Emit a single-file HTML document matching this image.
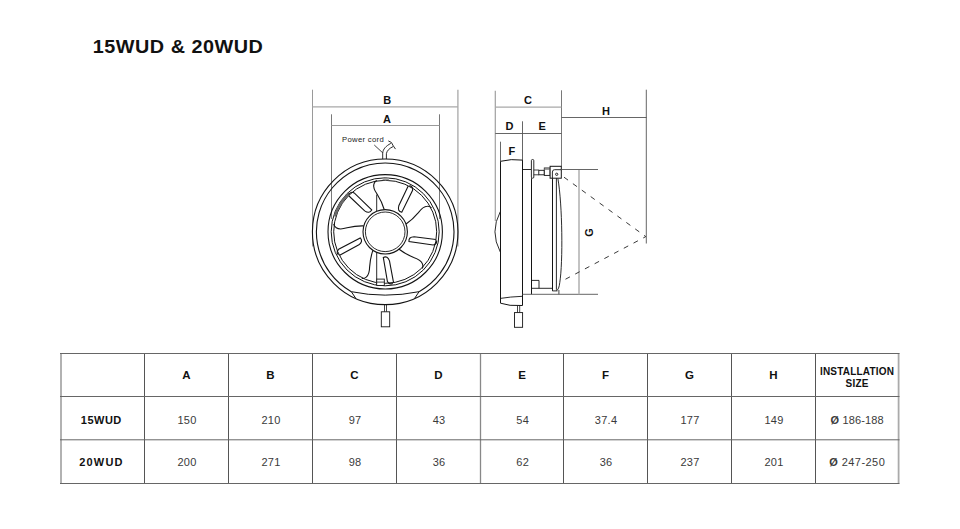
<!DOCTYPE html>
<html><head><meta charset="utf-8">
<style>
html,body{margin:0;padding:0;background:#fff;width:960px;height:529px;overflow:hidden;}
svg{position:absolute;left:0;top:0;}
text{font-family:"Liberation Sans",sans-serif;}
.title{font-size:18px;font-weight:bold;fill:#111;letter-spacing:0.47px;}
.lb{font-size:11px;font-weight:bold;fill:#111;text-anchor:middle;}
.pc{font-size:7.7px;fill:#222;letter-spacing:0.3px;}
.th{font-size:11.5px;font-weight:bold;fill:#111;text-anchor:middle;}
.td{font-size:11px;fill:#3a3a3a;text-anchor:middle;letter-spacing:0.35px;}
.tr{font-size:11px;font-weight:bold;fill:#111;text-anchor:middle;letter-spacing:0.5px;}
.ti{font-size:10px;font-weight:bold;fill:#111;text-anchor:middle;letter-spacing:0.2px;}
</style></head><body>
<svg width="960" height="529" viewBox="0 0 960 529">
<text transform="translate(92.8,53.2) scale(1.1,1)" x="0" y="0" class="title">15WUD &amp; 20WUD</text>
<line x1="312.5" y1="89.7" x2="312.5" y2="246.5" stroke="#9a9a9a" stroke-width="1"/>
<line x1="457.9" y1="89.7" x2="457.9" y2="246.5" stroke="#a8a8a8" stroke-width="1.3"/>
<line x1="312.5" y1="106.9" x2="457.9" y2="106.9" stroke="#a8a8a8" stroke-width="1.3"/>
<line x1="331.5" y1="114.3" x2="331.5" y2="219" stroke="#6a6a6a" stroke-width="0.9"/>
<line x1="439.5" y1="114.3" x2="439.5" y2="219" stroke="#6a6a6a" stroke-width="0.9"/>
<line x1="331.5" y1="125.5" x2="439.5" y2="125.5" stroke="#9a9a9a" stroke-width="1.1"/>
<text x="387.3" y="104" class="lb">B</text>
<text x="387" y="122.9" class="lb">A</text>
<circle cx="385.2" cy="231.8" r="72.8" fill="none" stroke="#141414" stroke-width="1.1"/>
<path d="M351.32,291.68 A68.8,68.8 0 1 1 419.08,291.68" fill="none" stroke="#141414" stroke-width="1.1"/>
<path d="M351.32,291.68 Q385.2,298.6 419.08,291.68" fill="none" stroke="#141414" stroke-width="1"/>
<path d="M351.32,291.68 L355.8,298.4 M419.08,291.68 L414.6,298.4" fill="none" stroke="#141414" stroke-width="1"/>
<circle cx="385.2" cy="231.8" r="57.2" fill="none" stroke="#141414" stroke-width="1.1"/>
<circle cx="385.2" cy="231.8" r="54.0" fill="none" stroke="#141414" stroke-width="1.0"/>
<circle cx="385.2" cy="231.8" r="51.5" fill="none" stroke="#141414" stroke-width="1.0"/>
<path d="M382.6,177.8 L388.9,177.8 L388.9,180.3 L382.6,180.3Z" fill="#9a9a9a"/>
<path d="M333.56,216.01 A54.0,54.0 0 0 1 348.37,192.31 L350.08,194.14 A51.5,51.5 0 0 0 335.95,216.74Z" fill="#6a6a6a"/>
<circle cx="385.2" cy="231.8" r="22.2" fill="none" stroke="#141414" stroke-width="1.1"/>
<circle cx="385.2" cy="231.8" r="19.8" fill="none" stroke="#141414" stroke-width="0.9"/>
<g transform="translate(385.2,231.8)">
<g transform="rotate(0)"><path d="M-1,-22.3 C-2.8,-28.5 -5.5,-33.5 -8,-37.5 C-10.8,-41.5 -12.3,-44.5 -11.3,-47.8 C-10.8,-49.6 -9.8,-50.8 -8.4,-51.4" fill="none" stroke="#141414" stroke-width="1.1"/><path d="M23,-45.8 L13.6,-26 Q12,-20.5 16.6,-19.6 L27.4,-41.5 Q28,-45.5 24.2,-46.2" fill="none" stroke="#141414" stroke-width="1.1"/></g>
<g transform="rotate(72)"><path d="M-1,-22.3 C-2.8,-28.5 -5.5,-33.5 -8,-37.5 C-10.8,-41.5 -12.3,-44.5 -11.3,-47.8 C-10.8,-49.6 -9.8,-50.8 -8.4,-51.4" fill="none" stroke="#141414" stroke-width="1.1"/><path d="M23,-45.8 L13.6,-26 Q12,-20.5 16.6,-19.6 L27.4,-41.5 Q28,-45.5 24.2,-46.2" fill="none" stroke="#141414" stroke-width="1.1"/></g>
<g transform="rotate(144)"><path d="M-1,-22.3 C-2.8,-28.5 -5.5,-33.5 -8,-37.5 C-10.8,-41.5 -12.3,-44.5 -11.3,-47.8 C-10.8,-49.6 -9.8,-50.8 -8.4,-51.4" fill="none" stroke="#141414" stroke-width="1.1"/><path d="M23,-45.8 L13.6,-26 Q12,-20.5 16.6,-19.6 L27.4,-41.5 Q28,-45.5 24.2,-46.2" fill="none" stroke="#141414" stroke-width="1.1"/></g>
<g transform="rotate(216)"><path d="M-1,-22.3 C-2.8,-28.5 -5.5,-33.5 -8,-37.5 C-10.8,-41.5 -12.3,-44.5 -11.3,-47.8 C-10.8,-49.6 -9.8,-50.8 -8.4,-51.4" fill="none" stroke="#141414" stroke-width="1.1"/><path d="M23,-45.8 L13.6,-26 Q12,-20.5 16.6,-19.6 L27.4,-41.5 Q28,-45.5 24.2,-46.2" fill="none" stroke="#141414" stroke-width="1.1"/></g>
<g transform="rotate(288)"><path d="M-1,-22.3 C-2.8,-28.5 -5.5,-33.5 -8,-37.5 C-10.8,-41.5 -12.3,-44.5 -11.3,-47.8 C-10.8,-49.6 -9.8,-50.8 -8.4,-51.4" fill="none" stroke="#141414" stroke-width="1.1"/><path d="M23,-45.8 L13.6,-26 Q12,-20.5 16.6,-19.6 L27.4,-41.5 Q28,-45.5 24.2,-46.2" fill="none" stroke="#141414" stroke-width="1.1"/></g>
</g>
<line x1="376.7" y1="194.5" x2="376.7" y2="211.3" stroke="#141414" stroke-width="0.9"/>
<line x1="376.7" y1="252.3" x2="376.7" y2="284.8" stroke="#141414" stroke-width="0.9"/>
<rect x="376.7" y="279.1" width="7.6" height="6.4" fill="#fff" stroke="#141414" stroke-width="0.9"/>
<line x1="376.7" y1="282.1" x2="384.3" y2="282.1" stroke="#141414" stroke-width="0.8"/>
<path d="M382.7,159 L382.7,153.1 C383,149 386,146 390.8,143.4" fill="none" stroke="#141414" stroke-width="0.9"/>
<path d="M386.4,159 L386.4,153.7 C386.8,151 389,148.5 393,146.6" fill="none" stroke="#141414" stroke-width="0.9"/>
<path d="M388.3,140.9 Q392,141.5 393.3,145.9 L395.5,149.1" fill="none" stroke="#141414" stroke-width="0.9"/>
<line x1="374.25" y1="145" x2="382.7" y2="152.8" stroke="#141414" stroke-width="0.8"/>
<text x="342.1" y="142.2" class="pc">Power cord</text>
<line x1="384.5" y1="304.4" x2="384.5" y2="311.8" stroke="#141414" stroke-width="0.8"/>
<line x1="386.5" y1="304.4" x2="386.5" y2="311.8" stroke="#141414" stroke-width="0.8"/>
<rect x="381.3" y="311.8" width="8.4" height="15" fill="#fff" stroke="#141414" stroke-width="0.9"/>
<line x1="495.3" y1="90.7" x2="495.3" y2="221" stroke="#a0a0a0" stroke-width="1.2"/>
<line x1="561.5" y1="90.3" x2="561.5" y2="166.3" stroke="#6a6a6a" stroke-width="0.9"/>
<line x1="495.3" y1="107.2" x2="561.4" y2="107.2" stroke="#a8a8a8" stroke-width="1.3"/>
<text x="528" y="103.9" class="lb">C</text>
<line x1="495.3" y1="133.5" x2="561.5" y2="133.5" stroke="#555" stroke-width="0.9"/>
<line x1="522.5" y1="121.3" x2="522.5" y2="160.2" stroke="#555" stroke-width="0.9"/>
<text x="509.6" y="130.4" class="lb">D</text>
<text x="542.1" y="130.4" class="lb">E</text>
<line x1="500.5" y1="141.7" x2="500.5" y2="161.3" stroke="#555" stroke-width="0.9"/>
<text x="511.8" y="154.6" class="lb">F</text>
<path d="M500.5,303.2 L500.5,161.3 Q511,158.6 522.5,160.1 L522.5,305.5 L510.1,305.3 Z" fill="none" stroke="#141414" stroke-width="1"/>
<path d="M500.3,211.6 Q489.6,231.8 500.3,252" fill="none" stroke="#141414" stroke-width="0.9"/>
<path d="M500.4,298.4 Q510,296.8 522.4,296.3" fill="none" stroke="#141414" stroke-width="0.9"/>
<line x1="517.5" y1="305.5" x2="517.5" y2="312.6" stroke="#141414" stroke-width="0.8"/>
<line x1="519.7" y1="305.5" x2="519.7" y2="312.6" stroke="#141414" stroke-width="0.8"/>
<rect x="514.5" y="312.6" width="8.1" height="14.7" fill="#fff" stroke="#141414" stroke-width="0.9"/>
<line x1="522.5" y1="169.5" x2="531.4" y2="169.5" stroke="#141414" stroke-width="0.9"/>
<rect x="531.4" y="159.5" width="2.4" height="18.7" rx="1.1" fill="#fff" stroke="#141414" stroke-width="0.9"/>
<line x1="531.5" y1="178.2" x2="531.5" y2="294.3" stroke="#141414" stroke-width="1"/>
<path d="M533.8,170 L538.8,170 M533.8,174.8 L538.8,174.8" stroke="#141414" stroke-width="0.8"/>
<rect x="538.8" y="170.3" width="5.5" height="4.5" fill="#fff" stroke="#141414" stroke-width="0.9"/>
<rect x="544.3" y="168" width="5.8" height="7.4" fill="#fff" stroke="#141414" stroke-width="0.9"/>
<rect x="544.5" y="168.2" width="5.4" height="1.6" fill="#888"/>
<rect x="550.1" y="166.3" width="11.2" height="11.9" fill="#fff" stroke="#141414" stroke-width="1"/>
<path d="M561.3,169.7 L554.6,169.7 Q552.4,169.7 552.4,172 L552.4,178.2" fill="none" stroke="#141414" stroke-width="0.9"/>
<circle cx="556.7" cy="174.3" r="1.15" fill="none" stroke="#141414" stroke-width="0.9"/>
<line x1="552.5" y1="178.2" x2="552.5" y2="290.9" stroke="#141414" stroke-width="1"/>
<line x1="556.4" y1="178.2" x2="556.4" y2="289.8" stroke="#141414" stroke-width="0.9"/>
<path d="M557.9,178.6 C562.5,205 563,262 559.8,282.4 Q559,289.8 556.4,290.6" fill="none" stroke="#141414" stroke-width="0.9"/>
<path d="M552.4,290.9 L557.5,290.9" stroke="#141414" stroke-width="0.9"/>
<path d="M531.8,280.4 L539,280.4 L539,288.3 M531.8,288.3 L552.4,288.3" fill="none" stroke="#141414" stroke-width="0.9"/>
<line x1="558.9" y1="290" x2="558.9" y2="294.3" stroke="#141414" stroke-width="0.8"/>
<line x1="522.4" y1="294.3" x2="598" y2="294.3" stroke="#555" stroke-width="0.9"/>
<line x1="561.3" y1="169.5" x2="598" y2="169.5" stroke="#555" stroke-width="0.9"/>
<line x1="579" y1="170" x2="579" y2="294.3" stroke="#b4b4b4" stroke-width="1.6"/>
<text transform="translate(592.8,232.5) rotate(-90)" x="0" y="0" class="lb">G</text>
<line x1="561.5" y1="117.5" x2="646.6" y2="117.5" stroke="#555" stroke-width="0.9"/>
<line x1="646.3" y1="89.7" x2="646.3" y2="243.5" stroke="#555" stroke-width="0.9"/>
<text x="605.9" y="114.7" class="lb">H</text>
<path d="M564,177.2 L645.8,236.6 L564,280" fill="none" stroke="#222" stroke-width="0.9" stroke-dasharray="5 6"/>
<line x1="144.5" y1="353" x2="144.5" y2="483.5" stroke="#555" stroke-width="1"/>
<line x1="228.5" y1="353" x2="228.5" y2="483.5" stroke="#555" stroke-width="1"/>
<line x1="312.5" y1="353" x2="312.5" y2="483.5" stroke="#555" stroke-width="1"/>
<line x1="396.5" y1="353" x2="396.5" y2="483.5" stroke="#555" stroke-width="1"/>
<line x1="563.5" y1="353" x2="563.5" y2="483.5" stroke="#555" stroke-width="1"/>
<line x1="647.5" y1="353" x2="647.5" y2="483.5" stroke="#555" stroke-width="1"/>
<line x1="731.5" y1="353" x2="731.5" y2="483.5" stroke="#555" stroke-width="1"/>
<line x1="815.5" y1="353" x2="815.5" y2="483.5" stroke="#555" stroke-width="1"/>
<line x1="480.5" y1="353" x2="480.5" y2="483.5" stroke="#888" stroke-width="1.3"/>
<line x1="61" y1="353" x2="61" y2="483.5" stroke="#aaa" stroke-width="1.8"/>
<line x1="898.6" y1="353" x2="898.6" y2="483.5" stroke="#aaa" stroke-width="1.8"/>
<line x1="60" y1="353.5" x2="899.5" y2="353.5" stroke="#666" stroke-width="1"/>
<line x1="60" y1="396.5" x2="899.5" y2="396.5" stroke="#666" stroke-width="1"/>
<line x1="60" y1="439.8" x2="899.5" y2="439.8" stroke="#666" stroke-width="1"/>
<line x1="60" y1="483.5" x2="899.5" y2="483.5" stroke="#666" stroke-width="1"/>
<text x="186.5" y="378.6" class="th">A</text>
<text x="270.5" y="378.6" class="th">B</text>
<text x="354.5" y="378.6" class="th">C</text>
<text x="438.5" y="378.6" class="th">D</text>
<text x="522.2" y="378.6" class="th">E</text>
<text x="605.5" y="378.6" class="th">F</text>
<text x="689.5" y="378.6" class="th">G</text>
<text x="773.5" y="378.6" class="th">H</text>
<text x="187.1" y="424" class="td">150</text>
<text x="271.1" y="424" class="td">210</text>
<text x="355.1" y="424" class="td">97</text>
<text x="439.1" y="424" class="td">43</text>
<text x="522.8000000000001" y="424" class="td">54</text>
<text x="606.1" y="424" class="td">37.4</text>
<text x="690.1" y="424" class="td">177</text>
<text x="774.1" y="424" class="td">149</text>
<text x="187.1" y="466.2" class="td">200</text>
<text x="271.1" y="466.2" class="td">271</text>
<text x="355.1" y="466.2" class="td">98</text>
<text x="439.1" y="466.2" class="td">36</text>
<text x="522.8000000000001" y="466.2" class="td">62</text>
<text x="606.1" y="466.2" class="td">36</text>
<text x="690.1" y="466.2" class="td">237</text>
<text x="774.1" y="466.2" class="td">201</text>
<text x="101.3" y="424.2" class="tr">15WUD</text>
<text x="101.5" y="466.2" class="tr" style="letter-spacing:1.2px">20WUD</text>
<text x="857.1" y="374.9" class="ti">INSTALLATION</text>
<text x="857.1" y="386.7" class="ti">SIZE</text>
<text x="857.2" y="424" class="td" style="letter-spacing:0.15px"><tspan font-weight="bold">Ø</tspan> 186-188</text>
<text x="857.2" y="466.2" class="td" style="letter-spacing:0.45px"><tspan font-weight="bold">Ø</tspan> 247-250</text>
</svg>
</body></html>
